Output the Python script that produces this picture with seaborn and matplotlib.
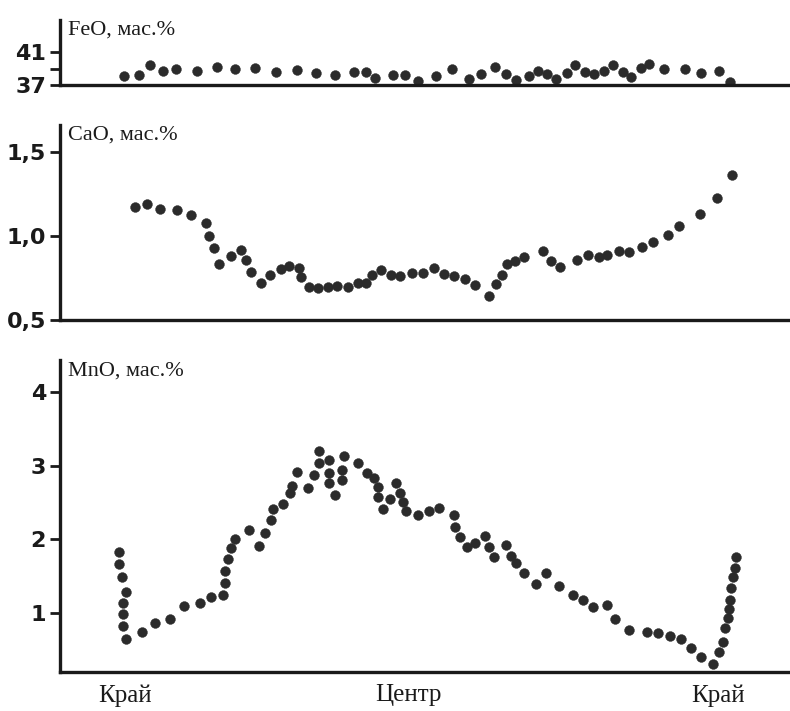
import numpy as np
import pandas as pd
import matplotlib
matplotlib.use("Agg")
import matplotlib.pyplot as plt
import seaborn as sns

# position along the profile (0..100 across the axis), values in wt.%
feo_pos = [8.8, 10.9, 12.4, 14.1, 16.0, 18.8, 21.5, 24.0, 26.8, 29.7, 32.5, 35.2, 37.8, 40.4, 42.0,
           43.3, 45.8, 47.4, 49.2, 51.6, 53.8, 56.2, 57.8, 59.7, 61.3, 62.6, 64.4, 65.7, 66.9, 68.1,
           69.7, 70.7, 72.1, 73.4, 74.7, 76.0, 77.3, 78.5, 79.8, 80.9, 83.0, 85.8, 88.0, 90.5, 92.0]
feo_val = [38.13, 38.21, 39.42, 38.73, 38.9, 38.7, 39.15, 38.9, 39.06, 38.58, 38.8, 38.4, 38.25, 38.54, 38.6,
           37.9, 38.25, 38.25, 37.5, 38.13, 38.9, 37.7, 38.3, 39.2, 38.33, 37.6, 38.1, 38.73, 38.33, 37.73,
           38.4, 39.42, 38.54, 38.33, 38.73, 39.42, 38.54, 37.96, 39.02, 39.6, 38.9, 38.9, 38.4, 38.7, 37.4]

cao_pos = [10.3, 12.0, 13.8, 16.1, 18.0, 20.1, 20.5, 21.1, 21.9, 23.5, 24.9, 25.6, 26.3, 27.6, 28.9,
           30.4, 31.4, 32.8, 33.1, 34.2, 35.4, 36.8, 38.1, 39.5, 40.9, 42.0, 42.9, 44.1, 45.4, 46.7,
           48.3, 49.8, 51.4, 52.7, 54.1, 55.6, 57.0, 58.9, 59.9, 60.7, 61.4, 62.5, 63.8, 66.4, 67.5,
           68.7, 71.0, 72.5, 74.0, 75.2, 76.8, 78.2, 80.0, 81.4, 83.5, 85.0, 87.9, 90.2, 92.3]
cao_val = [1.171, 1.19, 1.159, 1.155, 1.127, 1.076, 1.0, 0.929, 0.833, 0.881, 0.917, 0.857, 0.788, 0.722, 0.768,
           0.802, 0.823, 0.808, 0.758, 0.698, 0.689, 0.698, 0.702, 0.698, 0.718, 0.718, 0.768, 0.798, 0.77, 0.762,
           0.782, 0.782, 0.808, 0.774, 0.762, 0.742, 0.708, 0.643, 0.714, 0.768, 0.833, 0.853, 0.877, 0.913, 0.853,
           0.817, 0.857, 0.887, 0.877, 0.887, 0.913, 0.907, 0.936, 0.966, 1.006, 1.06, 1.131, 1.224, 1.363]

mno_pos = [8.1, 8.1, 8.5, 9.1, 8.6, 8.6, 8.7, 9.0, 11.2, 13.0, 15.1, 17.1, 19.2, 20.7, 22.4,
           22.6, 22.7, 23.1, 23.5, 24.0, 25.9, 27.4, 28.1, 29.0, 29.2, 30.6, 31.6, 31.9, 32.6, 34.1,
           34.9, 35.6, 35.6, 36.9, 36.9, 37.0, 37.8, 38.7, 38.7, 39.0, 40.9, 42.2, 43.1, 43.7, 43.7,
           44.3, 45.3, 46.2, 46.7, 47.1, 47.5, 49.2, 50.7, 52.0, 54.1, 54.3, 55.0, 55.9, 57.0, 58.4,
           58.9, 59.6, 61.2, 61.9, 62.6, 63.7, 65.4, 66.8, 68.5, 70.4, 71.8, 73.2, 75.1, 76.3, 78.2,
           80.6, 82.2, 83.8, 85.3, 86.7, 88.1, 89.7, 90.5, 91.1, 91.4, 91.8, 91.9, 92.0, 92.2, 92.5,
           92.7, 92.8]
mno_val = [1.832, 1.665, 1.493, 1.289, 1.132, 0.986, 0.824, 0.643, 0.746, 0.860, 0.919, 1.095, 1.132, 1.221, 1.240,
           1.411, 1.574, 1.733, 1.878, 2.000, 2.127, 1.914, 2.090, 2.262, 2.408, 2.480, 2.625, 2.724, 2.918, 2.693,
           2.873, 3.032, 3.203, 3.077, 2.904, 2.761, 2.602, 2.805, 2.941, 3.131, 3.040, 2.904, 2.828, 2.714, 2.579,
           2.408, 2.543, 2.761, 2.633, 2.511, 2.389, 2.330, 2.389, 2.421, 2.330, 2.163, 2.036, 1.892, 1.946, 2.045,
           1.892, 1.764, 1.923, 1.774, 1.675, 1.547, 1.394, 1.539, 1.371, 1.244, 1.176, 1.077, 1.109, 0.914, 0.769,
           0.746, 0.724, 0.692, 0.647, 0.521, 0.407, 0.304, 0.475, 0.610, 0.792, 0.928, 1.050, 1.176, 1.335, 1.485,
           1.615, 1.756]

x_tick_pos = [8.9, 47.9, 90.4]
x_tick_labels = ["Край", "Центр", "Край"]

panels = [
    ("FeO, мас.%", feo_pos, feo_val, (37, 44.9), [37, 39, 41], ["37", "", "41"]),
    ("CaO, мас.%", cao_pos, cao_val, (0.5, 1.661), [0.5, 1.0, 1.5], ["0,5", "1,0", "1,5"]),
    ("MnO, мас.%", mno_pos, mno_val, (0.199, 4.434), [1, 2, 3, 4], ["1", "2", "3", "4"]),
]

sns.set_style("ticks")
plt.rcParams["font.family"] = ["DejaVu Sans"]

W, H = 790, 711
fig = plt.figure(figsize=(W / 100, H / 100), dpi=100)
boxes = [(20, 85), (125, 320), (360, 672)]
left_px, right_px = 60, 788
ink = "#2b2b2b"

for (title, xs, ys, ylim, yt, ytl), (top, bot) in zip(panels, boxes):
    ax = fig.add_axes([left_px / W, 1 - bot / H, (right_px - left_px) / W, (bot - top) / H])
    df = pd.DataFrame({"pos": xs, "val": ys})
    sns.scatterplot(data=df, x="pos", y="val", ax=ax, s=50, color=ink,
                    edgecolor=ink, linewidth=0.3, legend=False)
    ax.set_xlim(0, 100)
    ax.set_ylim(*ylim)
    sns.despine(ax=ax)
    for sp in ("left", "bottom"):
        ax.spines[sp].set_linewidth(2.4)
        ax.spines[sp].set_color("#1a1a1a")
    ax.set_yticks(yt)
    ax.set_yticklabels(ytl, fontsize=16, fontweight="bold", color="#1a1a1a")
    ax.tick_params(axis="y", length=7, width=2, direction="out", pad=3, color="#1a1a1a")
    ax.set_xlabel("")
    ax.set_ylabel("")
    ax.text(0.011, 0.995, title, transform=ax.transAxes, ha="left", va="top",
            fontsize=16, family="Liberation Serif", color="#1a1a1a")
    if title.startswith("MnO"):
        ax.set_xticks(x_tick_pos)
        ax.set_xticklabels(x_tick_labels, fontsize=18, family="Liberation Serif", color="#1a1a1a")
        ax.tick_params(axis="x", length=0, pad=9)
    else:
        ax.set_xticks([])

fig.savefig("out.png", dpi=100, facecolor="white")
